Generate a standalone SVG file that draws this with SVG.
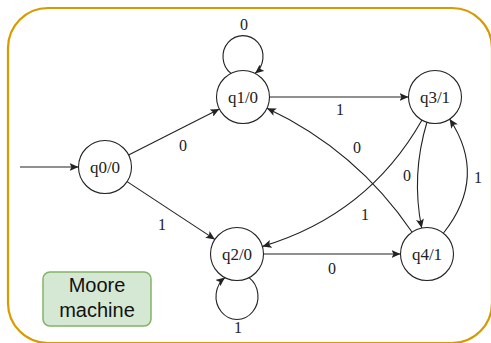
<svg xmlns="http://www.w3.org/2000/svg" width="491" height="343" viewBox="0 0 491 343">
  <style>
    .frame { fill: #ffffff; stroke: #d79b00; stroke-width: 2.2; }
    .state circle { fill: #ffffff; stroke: #222222; stroke-width: 1.1; }
    .state text { font-family: "Liberation Serif", "Times New Roman", serif; font-size: 17px; fill: #222222; text-anchor: middle; }
    .edge { fill: none; stroke: #222222; stroke-width: 1.1; marker-end: url(#arrow); }
    .lbl { font-family: "Liberation Serif", "Times New Roman", serif; font-size: 16px; fill: #222222; text-anchor: middle; }
    .note rect { fill: #d5e8d4; stroke: #82b366; stroke-width: 1.5; }
    .note text { font-family: "Liberation Sans", Arial, sans-serif; font-size: 20px; fill: #111111; text-anchor: middle; }
  </style>
  <defs>
    <marker id="arrow" viewBox="0 0 9 8" refX="9" refY="4" markerWidth="9" markerHeight="8" markerUnits="userSpaceOnUse" orient="auto">
      <path d="M0,0 L9,4 L0,8 L2,4 Z" fill="#222222"/>
    </marker>
  </defs>

  <!-- outer container -->
  <rect class="frame" x="8" y="8" width="484" height="335" rx="40" ry="40"/>

  <!-- transitions -->
  <g id="connectors">
    <path class="edge" d="M20,167 L78.5,167"/>
    <path class="edge" d="M128.6,155 L219.4,109"/>
    <path class="edge" d="M127.1,181.6 L214.9,239.4"/>
    <path class="edge" d="M269.5,97 L408.5,97"/>
    <path class="edge" d="M263.5,254 L400.5,254"/>
    <path class="edge" d="M231,73.4 A20,21 0 1 1 255,73.4"/>
    <path class="edge" d="M249,277.6 A21,23 0 1 1 225,277.6"/>
    <path class="edge" d="M412,232 Q356,150 267,108.3"/>
    <path class="edge" d="M422,120 Q368,215 262.4,246.4"/>
    <path class="edge" d="M427,122 Q411,175 421.7,228"/>
    <path class="edge" d="M443.5,233 Q488,177 449.6,119"/>

    <text class="lbl" x="244" y="29.5">0</text>
    <text class="lbl" x="340" y="115">1</text>
    <text class="lbl" x="183" y="151">0</text>
    <text class="lbl" x="357" y="153">0</text>
    <text class="lbl" x="407" y="181">0</text>
    <text class="lbl" x="478" y="183">1</text>
    <text class="lbl" x="365" y="220">1</text>
    <text class="lbl" x="162" y="230">1</text>
    <text class="lbl" x="332" y="274">0</text>
    <text class="lbl" x="238" y="333">1</text>
  </g>

  <!-- states -->
  <g id="q0" class="state">
    <circle cx="105" cy="167" r="26.5"/>
    <text x="105" y="172.5">q0/0</text>
  </g>
  <g id="q1" class="state">
    <circle cx="243" cy="97" r="26.5"/>
    <text x="243" y="102.5">q1/0</text>
  </g>
  <g id="q2" class="state">
    <circle cx="237" cy="254" r="26.5"/>
    <text x="237" y="259.5">q2/0</text>
  </g>
  <g id="q3" class="state">
    <circle cx="435" cy="97" r="26.5"/>
    <text x="435" y="102.5">q3/1</text>
  </g>
  <g id="q4" class="state">
    <circle cx="427" cy="254" r="26.5"/>
    <text x="427" y="259.5">q4/1</text>
  </g>

  <!-- caption box -->
  <g id="caption" class="note">
    <rect x="43" y="272" width="108" height="54" rx="7" ry="7"/>
    <text x="97" y="291.5">Moore</text>
    <text x="97" y="316.5">machine</text>
  </g>
</svg>
